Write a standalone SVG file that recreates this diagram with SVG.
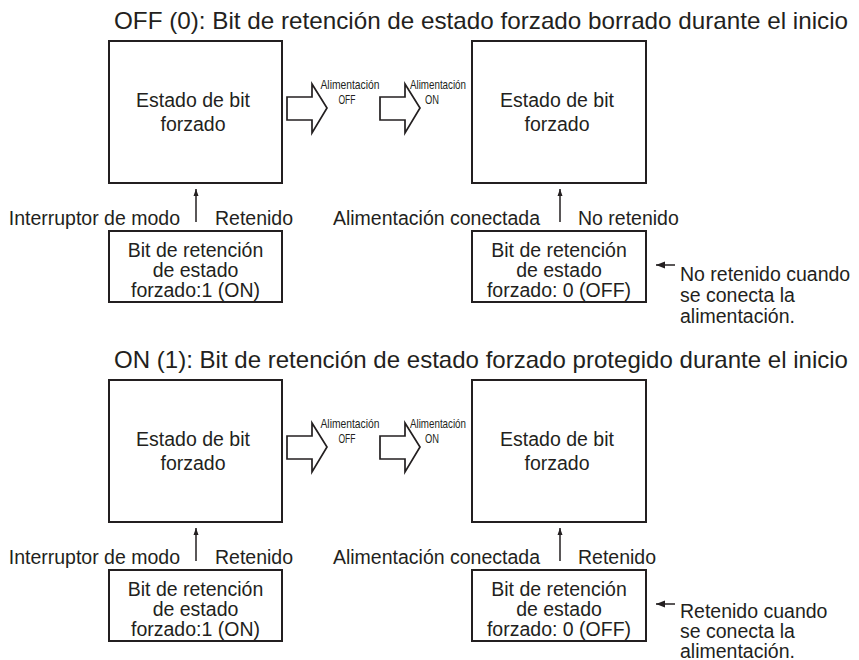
<svg xmlns="http://www.w3.org/2000/svg" width="859" height="660" viewBox="0 0 859 660">
<style>
text{font-family:"Liberation Sans",Arial,sans-serif;fill:#231f20}
.t{font-size:24px}
.m{font-size:19.5px}
.s{font-size:13.5px}
.c{text-anchor:middle}
.e{text-anchor:end}
.box{fill:#fff;stroke:#231f20;stroke-width:2}
.blk{fill:#fff;stroke:#231f20;stroke-width:1.7;stroke-linejoin:miter}
.ln{stroke:#231f20;stroke-width:1.5;fill:none}
</style>
<defs>
<marker id="ah" markerWidth="8" markerHeight="8" refX="7" refY="4" orient="auto" markerUnits="userSpaceOnUse">
<path d="M0,1.5 L7,4 L0,6.5 Z" fill="#231f20"/>
</marker>
<marker id="ah2" markerWidth="10" markerHeight="8" refX="9" refY="4" orient="auto" markerUnits="userSpaceOnUse">
<path d="M0,0.5 L9,4 L0,7.5 Z" fill="#231f20"/>
</marker>
</defs>
<rect width="859" height="660" fill="#fff"/>

<g id="sec-off">
<text class="t" x="114" y="29" textLength="734" lengthAdjust="spacingAndGlyphs">OFF (0): Bit de retención de estado forzado borrado durante el inicio</text>
<g id="off-state1"><rect class="box" x="109" y="41" width="173" height="142"/>
<text class="m c" x="193" y="107">Estado de bit</text><text class="m c" x="193" y="131">forzado</text></g>
<g id="off-state2"><rect class="box" x="472" y="41" width="174" height="142"/>
<text class="m c" x="557" y="107">Estado de bit</text><text class="m c" x="557" y="131">forzado</text></g>
<g id="off-bit1"><rect class="box" x="109" y="231" width="173" height="71"/>
<text class="m c" x="195.5" y="257">Bit de retención</text><text class="m c" x="195.5" y="277">de estado</text><text class="m c" x="195.5" y="297">forzado:1 (ON)</text></g>
<g id="off-bit2"><rect class="box" x="472" y="231" width="174" height="71"/>
<text class="m c" x="559" y="257">Bit de retención</text><text class="m c" x="559" y="277">de estado</text><text class="m c" x="559" y="297">forzado: 0 (OFF)</text></g>
<g id="off-pwr-off"><polygon class="blk" points="287,97 312,97 312,84 327,108 312,133 312,120 287,120"/>
<text class="s c" x="350" y="89" textLength="59" lengthAdjust="spacingAndGlyphs">Alimentación</text><text class="s c" x="347" y="104" textLength="17" lengthAdjust="spacingAndGlyphs">OFF</text></g>
<g id="off-pwr-on"><polygon class="blk" points="380,97 405,97 405,84 420,108 405,133 405,120 380,120"/>
<text class="s c" x="438" y="89" textLength="56" lengthAdjust="spacingAndGlyphs">Alimentación</text><text class="s c" x="432" y="104" textLength="14" lengthAdjust="spacingAndGlyphs">ON</text></g>
<g id="off-labels">
<text class="m e" x="180" y="225">Interruptor de modo</text><text class="m" x="215" y="225">Retenido</text>
<text class="m e" x="540" y="225">Alimentación conectada</text><text class="m" x="578" y="225">No retenido</text>
<text class="m" x="680" y="281">No retenido cuando</text><text class="m" x="680" y="302">se conecta la</text><text class="m" x="680" y="323">alimentación.</text>
</g>
</g>

<g id="sec-on" transform="translate(0,339)">
<text class="t" x="114" y="29" textLength="734" lengthAdjust="spacingAndGlyphs">ON (1): Bit de retención de estado forzado protegido durante el inicio</text>
<g id="on-state1"><rect class="box" x="109" y="41" width="173" height="142"/>
<text class="m c" x="193" y="107">Estado de bit</text><text class="m c" x="193" y="131">forzado</text></g>
<g id="on-state2"><rect class="box" x="472" y="41" width="174" height="142"/>
<text class="m c" x="557" y="107">Estado de bit</text><text class="m c" x="557" y="131">forzado</text></g>
<g id="on-bit1"><rect class="box" x="109" y="231" width="173" height="71"/>
<text class="m c" x="195.5" y="257">Bit de retención</text><text class="m c" x="195.5" y="277">de estado</text><text class="m c" x="195.5" y="297">forzado:1 (ON)</text></g>
<g id="on-bit2"><rect class="box" x="472" y="231" width="174" height="71"/>
<text class="m c" x="559" y="257">Bit de retención</text><text class="m c" x="559" y="277">de estado</text><text class="m c" x="559" y="297">forzado: 0 (OFF)</text></g>
<g id="on-pwr-off"><polygon class="blk" points="287,97 312,97 312,84 327,108 312,133 312,120 287,120"/>
<text class="s c" x="350" y="89" textLength="59" lengthAdjust="spacingAndGlyphs">Alimentación</text><text class="s c" x="347" y="104" textLength="17" lengthAdjust="spacingAndGlyphs">OFF</text></g>
<g id="on-pwr-on"><polygon class="blk" points="380,97 405,97 405,84 420,108 405,133 405,120 380,120"/>
<text class="s c" x="438" y="89" textLength="56" lengthAdjust="spacingAndGlyphs">Alimentación</text><text class="s c" x="432" y="104" textLength="14" lengthAdjust="spacingAndGlyphs">ON</text></g>
<g id="on-labels">
<text class="m e" x="180" y="225">Interruptor de modo</text><text class="m" x="215" y="225">Retenido</text>
<text class="m e" x="540" y="225">Alimentación conectada</text><text class="m" x="578" y="225">Retenido</text>
<text class="m" x="680" y="279">Retenido cuando</text><text class="m" x="680" y="299">se conecta la</text><text class="m" x="680" y="319">alimentación.</text>
</g>
</g>

<g id="connectors">
<line class="ln" x1="196" y1="222" x2="196" y2="189" marker-end="url(#ah)"/>
<line class="ln" x1="560" y1="222" x2="560" y2="189" marker-end="url(#ah)"/>
<line class="ln" x1="675" y1="265" x2="656" y2="265" marker-end="url(#ah2)"/>
<line class="ln" x1="196" y1="561" x2="196" y2="528" marker-end="url(#ah)"/>
<line class="ln" x1="560" y1="561" x2="560" y2="528" marker-end="url(#ah)"/>
<line class="ln" x1="675" y1="604" x2="656" y2="604" marker-end="url(#ah2)"/>
</g>
</svg>
